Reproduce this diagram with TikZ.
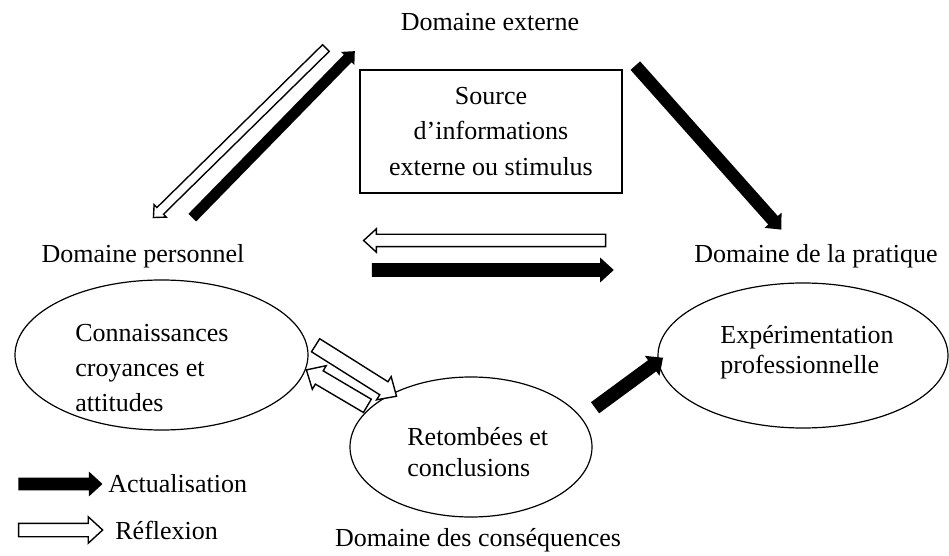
\documentclass[tikz,border=0pt]{standalone}
\usepackage{fontspec}
\setmainfont{Liberation Serif}
\usetikzlibrary{shapes.geometric,shapes.arrows,calc}
\tikzset{
  dom/.style={font=\fontsize{13}{17.5}\selectfont, inner sep=0pt},
  txt/.style={font=\fontsize{13}{17.5}\selectfont, align=left, anchor=west, inner sep=0pt},
  ell/.style={ellipse, draw, line width=0.6pt, inner sep=0pt},
  actu/.style args={#1/#2}{single arrow, draw=none, fill=black, inner xsep=0pt, inner ysep=#1,
    single arrow tip angle=85, single arrow head extend=#2},
  refl/.style args={#1/#2}{single arrow, draw=black, fill=white, line width=0.7pt, inner xsep=0pt,
    inner ysep=#1, single arrow tip angle=85, single arrow head extend=#2}
}
\newcommand{\fleche}[3]{%
  \path let \p1=($(#3)-(#2)$), \n1={veclen(\x1,\y1)}, \n2={atan2(\y1,\x1)} in
    node[#1, minimum height=\n1, rotate=\n2] at ($(#2)!0.5!(#3)$) {};}
\begin{document}
\begin{tikzpicture}[x=0.5pt,y=-0.5pt]
\useasboundingbox (0,0) rectangle (949,556);
\node[dom] (ext) at (490,22) {Domaine externe};
\node[dom] (pers) at (143,256) {Domaine personnel};
\node[dom] (prat) at (816,256) {Domaine de la pratique};
\node[dom] (cons) at (478,540) {Domaine des conséquences};
\node[draw, line width=0.6pt, minimum width=131pt, minimum height=61.5pt, align=center,
  font=\fontsize{13}{17.75}\selectfont] (source) at (491,131.5) {Source\\d’informations\\externe ou stimulus};
\node[ell, minimum width=146.5pt, minimum height=75pt] (savoir) at (161.5,355) {};
\node[ell, minimum width=145pt, minimum height=72.5pt] (pratique) at (803,355.5) {};
\node[ell, minimum width=121pt, minimum height=70pt] (retombees) at (471,447) {};
\node[txt] (savoirtxt) at (75,368) {Connaissances\\croyances et\\attitudes};
\node[txt, font=\fontsize{13}{15}\selectfont] (pratiquetxt) at (720,352) {Expérimentation\\professionnelle};
\node[txt, font=\fontsize{13}{15.5}\selectfont] (retombeestxt) at (407,452) {Retombées et\\conclusions};
\node[txt] (lega) at (108,484) {Actualisation};
\node[txt] (legr) at (115,530) {Réflexion};
\coordinate (tlA) at (190,220); \coordinate (tlB) at (353,53);
\coordinate (tlC) at (328,46);  \coordinate (tlD) at (155,216);
\coordinate (trA) at (633,63);  \coordinate (trB) at (779,227);
\coordinate (mwA) at (609,240.5); \coordinate (mwB) at (367,240.5);
\coordinate (mbA) at (368,270); \coordinate (mbB) at (610,270);
\coordinate (ewA) at (312,343); \coordinate (ewB) at (393,394);
\coordinate (ewC) at (371,408); \coordinate (ewD) at (310,372);
\coordinate (brA) at (592,410); \coordinate (brB) at (660,360);
\coordinate (laA) at (15,484);  \coordinate (laB) at (99,484);
\coordinate (lrA) at (15,530);  \coordinate (lrB) at (99,530);
\fleche{actu=2.5pt/2pt}{tlA}{tlB}
\fleche{refl=2pt/2pt}{tlC}{tlD}
\fleche{actu=3pt/2.5pt}{trA}{trB}
\fleche{refl=2.75pt/2.75pt}{mwA}{mwB}
\fleche{actu=3.25pt/2.75pt}{mbA}{mbB}
\fleche{refl=3.5pt/3pt}{ewA}{ewB}
\fleche{refl=3.5pt/3pt}{ewC}{ewD}
\fleche{actu=3.25pt/2.75pt}{brA}{brB}
\fleche{actu=3pt/3pt}{laA}{laB}
\fleche{refl=3pt/3.25pt}{lrA}{lrB}
\end{tikzpicture}
\end{document}
